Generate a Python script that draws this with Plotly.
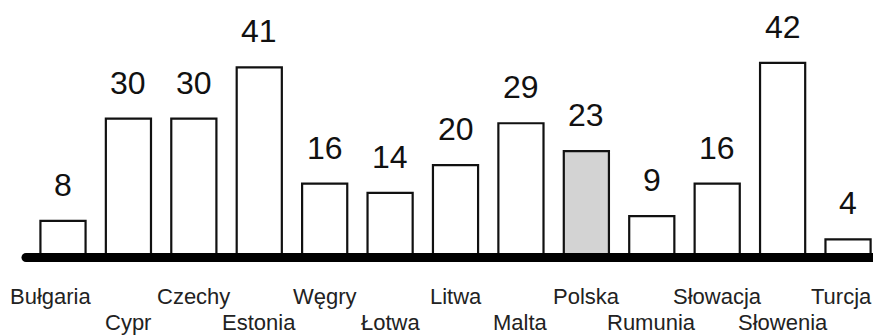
import plotly.graph_objects as go

# Country labels and values
countries = ["Bułgaria", "Cypr", "Czechy", "Estonia", "Węgry", "Łotwa", "Litwa",
             "Malta", "Polska", "Rumunia", "Słowacja", "Słowenia", "Turcja"]
values = [8, 30, 30, 41, 16, 14, 20, 29, 23, 9, 16, 42, 4]
highlight = "Polska"

W, H = 873, 335
x0_px, step_px = 63.0, 65.42      # first category centre and spacing
y0_px, unit_px = 258.0, 4.647     # baseline pixel and pixels per unit

x_range = [-x0_px / step_px, (W - x0_px) / step_px]
y_range = [-(H - y0_px) / unit_px, y0_px / unit_px]

def py(px):
    """pixel row -> data y"""
    return (y0_px - px) / unit_px

xs = list(range(len(countries)))
fills = ["#d3d3d3" if c == highlight else "white" for c in countries]

fig = go.Figure()
fig.add_trace(go.Bar(
    x=xs, y=values, width=0.69,
    marker=dict(color=fills, line=dict(color="#111111", width=2.2)),
    hoverinfo="skip",
))

font = "Liberation Sans, Arial, sans-serif"
ann = []
for i, v in zip(xs, values):
    ann.append(dict(x=i, y=v, xref="x", yref="y", text=str(v), showarrow=False,
                    yanchor="middle", yshift=36,
                    font=dict(family=font, size=32, color="#111111")))

label_shift = {0: -13, len(countries) - 1: -7}
for i, c in enumerate(countries):
    row = py(296) if i % 2 == 0 else py(322.5)
    ann.append(dict(x=i, y=row, xref="x", yref="y", text=c, showarrow=False,
                    yanchor="middle", xshift=label_shift.get(i, 0),
                    font=dict(family=font, size=22, color="#222222")))

# thick baseline with a rounded left end
base_left = (26 - x0_px) / step_px
shapes = [
    dict(type="line", xref="x", yref="y", x0=base_left, x1=x_range[1],
         y0=py(257.5), y1=py(257.5), line=dict(color="black", width=9)),
    dict(type="circle", xref="x", yref="y",
         x0=base_left - 4.5 / step_px, x1=base_left + 4.5 / step_px,
         y0=py(262), y1=py(253), fillcolor="black", line=dict(width=0)),
]

fig.update_layout(
    width=W, height=H,
    margin=dict(l=0, r=0, t=0, b=0),
    paper_bgcolor="white", plot_bgcolor="white",
    showlegend=False,
    xaxis=dict(range=x_range, visible=False, fixedrange=True),
    yaxis=dict(range=y_range, visible=False, fixedrange=True),
    annotations=ann, shapes=shapes,
)

fig.write_html("out.html")
